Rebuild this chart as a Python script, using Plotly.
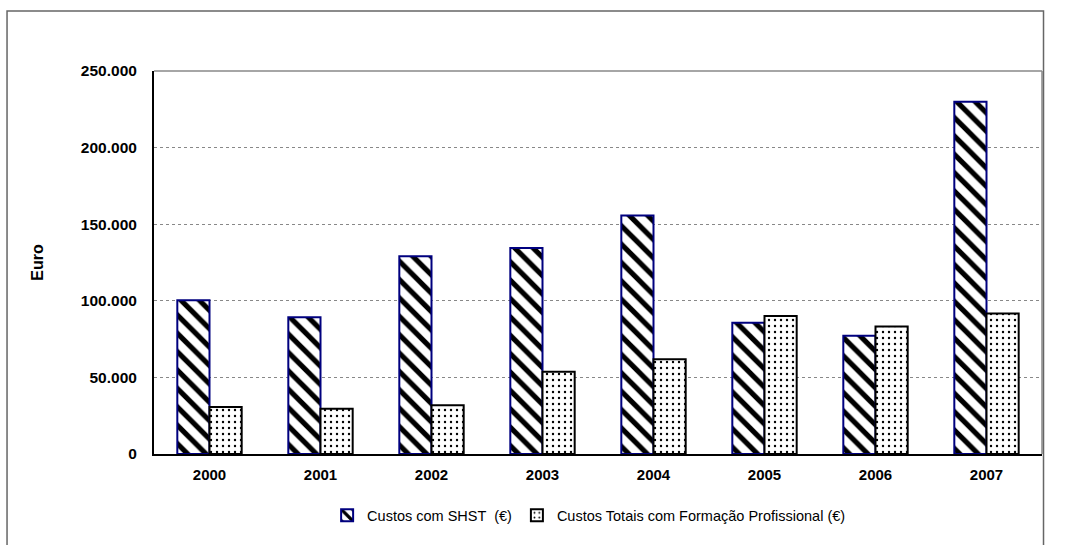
import plotly.graph_objects as go

# Annual costs (EUR)
years = ["2000", "2001", "2002", "2003", "2004", "2005", "2006", "2007"]
custos_shst = [100300, 89200, 129100, 134500, 155600, 85700, 77200, 229900]
custos_formacao = [30700, 29600, 31900, 53700, 61900, 90000, 83200, 91700]

y_ticks = [0, 50000, 100000, 150000, 200000, 250000]

series_names = ["Custos com SHST  (€)", "Custos Totais com Formação Profissional (€)"]

FONT = "Liberation Sans, Arial, Helvetica, sans-serif"

fig = go.Figure()

fig.add_trace(go.Bar(
    name=series_names[0],
    x=years,
    y=custos_shst,
    marker=dict(
        color="white",
        line=dict(color="#00007f", width=2),
        pattern=dict(shape="\\", fgcolor="black", bgcolor="white",
                     fgopacity=1, size=13, solidity=0.4),
    ),
))

fig.add_trace(go.Bar(
    name=series_names[1],
    x=years,
    y=custos_formacao,
    marker=dict(
        color="white",
        line=dict(color="black", width=2),
        pattern=dict(shape=".", fgcolor="black", bgcolor="white",
                     fgopacity=1, size=6, solidity=0.12),
    ),
))

fig.update_layout(
    width=1091,
    height=545,
    margin=dict(l=154, r=49, t=71, b=91),
    paper_bgcolor="white",
    plot_bgcolor="white",
    separators=",.",
    barmode="group",
    bargap=0.42,
    bargroupgap=0,
    font=dict(family=FONT, color="black"),
    showlegend=True,
    legend=dict(
        orientation="h",
        x=0.49, xanchor="center",
        y=-0.16, yanchor="middle",
        font=dict(family=FONT, size=14.5, color="black"),
        bgcolor="rgba(0,0,0,0)",
        itemsizing="constant",
    ),
    xaxis=dict(
        showline=True, linecolor="black", linewidth=2,
        showgrid=False, ticks="",
        tickfont=dict(family=FONT, size=15, color="black", weight="bold"),
        ticklabelstandoff=6,
    ),
    yaxis=dict(
        range=[0, 250000],
        tickvals=y_ticks,
        tickformat=",.0f",
        showline=True, linecolor="black", linewidth=2,
        showgrid=True, gridcolor="#888888", griddash="dot", gridwidth=1,
        zeroline=False, ticks="",
        tickfont=dict(family=FONT, size=15.5, color="black", weight="bold"),
        ticklabelstandoff=12,
        title=dict(text="Euro", standoff=33,
                   font=dict(family=FONT, size=16, color="black", weight="bold")),
    ),
    shapes=[
        # plot area frame: top and right edges
        dict(type="line", xref="paper", yref="paper", x0=0, x1=1, y0=1, y1=1,
             line=dict(color="#888888", width=1.5), layer="below"),
        dict(type="line", xref="paper", yref="paper", x0=1, x1=1, y0=0, y1=1,
             line=dict(color="#888888", width=1.5), layer="below"),
        # outer chart border
        dict(type="rect", xref="paper", yref="paper",
             x0=-0.1655, x1=1.0017, y0=-0.26, y1=1.1567,
             line=dict(color="#666666", width=1.5), fillcolor="rgba(0,0,0,0)"),
    ],
)

fig.write_html("out.html")
